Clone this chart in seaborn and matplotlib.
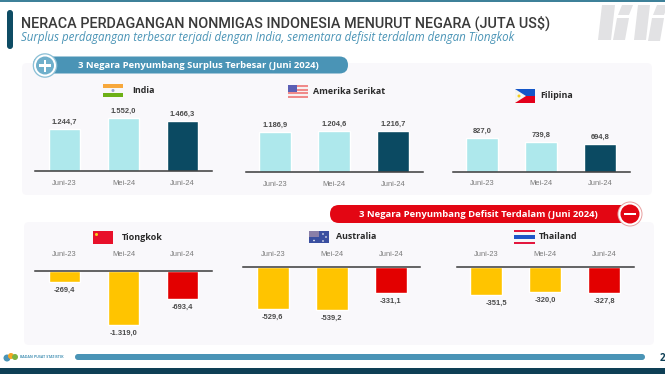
import pandas as pd
import seaborn as sns
from matplotlib import pyplot as plt
from matplotlib.patches import Rectangle, Circle, FancyBboxPatch, Polygon

sns.set_theme(style="white")
plt.rcParams["font.family"] = ["Open Sans", "DejaVu Sans"]

periods = ["Juni-23", "Mei-24", "Juni-24"]

india = [1244.7, 1552.0, 1466.3]
amerika = [1186.9, 1204.6, 1216.7]
filipina = [827.0, 739.8, 694.8]
tiongkok = [-269.4, -1319.0, -693.4]
australia = [-529.6, -539.2, -331.1]
thailand = [-351.5, -320.0, -327.8]

india_labels = ["1.244,7", "1.552,0", "1.466,3"]
amerika_labels = ["1.186,9", "1.204,6", "1.216,7"]
filipina_labels = ["827,0", "739,8", "694,8"]
tiongkok_labels = ["-269,4", "-1.319,0", "-693,4"]
australia_labels = ["-529,6", "-539,2", "-331,1"]
thailand_labels = ["-351,5", "-320,0", "-327,8"]

surplus_colors = ["#AEE8EC", "#AEE8EC", "#0B4A62"]
deficit_colors = ["#FFC400", "#FFC400", "#E30000"]
TEAL = "#4A94B6"
W, H = 665, 374

fig = plt.figure(figsize=(6.65, 3.74), dpi=100, facecolor="white")

# background layer in pixel coords
bg = fig.add_axes([0, 0, 1, 1])
bg.set_xlim(0, W)
bg.set_ylim(H, 0)
bg.axis("off")


def pill(x, y, w, h, color, z=2):
    r = min(w, h) / 2
    bg.add_patch(FancyBboxPatch((x, y), w, h, boxstyle=f"round,pad=0,rounding_size={r}",
                                fc=color, ec="none", zorder=z))


# top and bottom strips
bg.add_patch(Rectangle((0, 0), W, 2, fc="#3E8199", ec="none"))
bg.add_patch(Rectangle((0, 368), W, 6, fc="#0E3F55", ec="none"))

# panels
for x, y, w, h in [(22, 63, 630, 132), (24, 222, 630, 123)]:
    bg.add_patch(FancyBboxPatch((x, y), w, h, boxstyle="round,pad=0,rounding_size=5", fc="#F9F8FB", ec="none", zorder=1))

# title
pill(7, 10, 6, 39, "#0E4C64")
bg.text(21, 23, "NERACA PERDAGANGAN NONMIGAS INDONESIA MENURUT NEGARA (JUTA US$)",
        fontsize=10.35, fontweight="medium", color="#3A3A3A", va="center", family=["Roboto", "DejaVu Sans"])
bg.text(21, 37.5, "Surplus perdagangan terbesar terjadi dengan India, sementara defisit terdalam dengan Tiongkok",
        fontsize=8.3, style="italic", color=TEAL, va="center")

# watermark
for x, y, w, h in [(598, 5, 13, 35), (618, 5, 11, 10), (634, 5, 12, 35), (653, 5, 11, 10), (613, 18, 12, 22), (648, 18, 12, 23)]:
    bg.add_patch(Polygon([(x + 4, y), (x + w + 4, y), (x + w, y + h), (x, y + h)], fc="#E2E2E4", ec="none"))

# section headers
pill(33, 56.5, 315, 17, TEAL)
bg.add_patch(Circle((45, 65.5), 12.3, fc="#8CC0D6", ec="none", zorder=3))
bg.add_patch(Circle((45, 65.5), 11, fc="white", ec="none", zorder=3))
bg.add_patch(Circle((45, 65.5), 9, fc="#6FAFCB", ec="none", zorder=3))
bg.add_patch(Rectangle((39, 64.2), 12, 2.6, fc="white", ec="none", zorder=4))
bg.add_patch(Rectangle((43.7, 59.5), 2.6, 12, fc="white", ec="none", zorder=4))
bg.text(78, 65.5, "3 Negara Penyumbang Surplus Terbesar (Juni 2024)", fontsize=6.8, fontweight="bold",
        color="white", va="center", zorder=4)

pill(330, 205, 310, 18, "#E30613")
bg.add_patch(Circle((630, 214), 12.5, fc="#E8A0A0", ec="none", zorder=3))
bg.add_patch(Circle((630, 214), 11.5, fc="white", ec="none", zorder=3))
bg.add_patch(Circle((630, 214), 9.5, fc="#E30613", ec="none", zorder=3))
bg.add_patch(Rectangle((624, 212.7), 12, 2.6, fc="white", ec="none", zorder=4))
bg.text(478, 214, "3 Negara Penyumbang Defisit Terdalam (Juni 2024)", fontsize=6.8, fontweight="bold",
        color="white", ha="center", va="center", zorder=4)

# footer
pill(75, 354, 570, 6, TEAL)
bg.add_patch(Circle((7, 358), 3.5, fc="#4A94B6", ec="none"))
bg.add_patch(Circle((11, 356), 3, fc="#F5A623", ec="none"))
bg.add_patch(Circle((15, 357), 3, fc="#7CB342", ec="none"))
bg.text(20, 357.5, "BADAN PUSAT STATISTIK", fontsize=2.6, fontweight="bold", color=TEAL, va="center")
bg.text(660, 358.5, "2", fontsize=7, fontweight="bold", color="#0E3F55", va="center")


def bands(x, y, w, h, colors):
    step = h / len(colors)
    for i, c in enumerate(colors):
        bg.add_patch(Rectangle((x, y + i * step), w, step, fc=c, ec="none", zorder=3))


# flags
bands(103, 84, 20, 13, ["#F7A83C", "#F7F7F7", "#6DB016"])
bg.add_patch(Circle((113, 90.5), 1.5, fc="#9DA3C8", ec="none", zorder=4))
bands(288, 85, 20, 13, ["#F08A8A", "#F7F0F0", "#F08A8A", "#F7F0F0", "#F08A8A", "#F7F0F0", "#F08A8A"])
bg.add_patch(Rectangle((288, 85), 9, 7, fc="#5B5FB5", ec="none", zorder=4))
bands(515, 89, 20, 14, ["#1456C8", "#E3001B"])
bg.add_patch(Polygon([(515, 89), (515, 103), (526, 96)], fc="#F5F5F0", ec="none", zorder=4))
bg.add_patch(Circle((519, 96), 1.5, fc="#F5D020", ec="none", zorder=5))
bands(93, 231, 20, 13, ["#E8102A"])
bg.add_patch(Circle((96.5, 234.5), 1.5, fc="#F5D020", ec="none", zorder=4))
bands(309, 231, 20, 12, ["#3A4FA0"])
bg.add_patch(Rectangle((309, 231), 10, 6, fc="#8A7FA8", ec="none", zorder=4))
for cx, cy in [(314, 240.5), (323, 234), (326, 237), (323, 241)]:
    bg.add_patch(Circle((cx, cy), 0.8, fc="white", ec="none", zorder=4))
bands(514, 230, 21, 14, ["#E3173E", "#F7F7F7", "#1E56C8", "#1E56C8", "#F7F7F7", "#E3173E"])

charts = [
    ("India", india, india_labels, 35, 171.5, 0.0345, 132, 90, 6),
    ("Amerika Serikat", amerika, amerika_labels, 245.5, 172.3, 0.0342, 313, 91, 6),
    ("Filipina", filipina, filipina_labels, 452.7, 172, 0.0407, 540, 95, 6),
    ("Tiongkok", tiongkok, tiongkok_labels, 35, 270.7, 0.0412, 122, 237, 9),
    ("Australia", australia, australia_labels, 243.3, 266.7, 0.0804, 336, 236, 6),
    ("Thailand", thailand, thailand_labels, 456.7, 266.7, 0.0797, 539, 236, 6),
]

for name, vals, labs, x0, base, scale, name_x, name_y, pad in charts:
    neg = vals[0] < 0
    ah = 62  # axes height in px
    top = base if neg else base - ah
    ax = fig.add_axes([x0 / W, 1 - (top + ah) / H, 177 / W, ah / H])
    ax.patch.set_alpha(0)
    d = pd.DataFrame({"periode": periods, "nilai": vals})
    sns.barplot(data=d, x="periode", y="nilai", hue="periode", palette=deficit_colors if neg else surplus_colors,
                width=0.535, legend=False, saturation=1, ax=ax)
    span = ah / scale
    ax.set_xlim(-0.5, 2.5)
    ax.set_ylim(-span, 0) if neg else ax.set_ylim(0, span)
    ax.set_xlabel("")
    ax.set_ylabel("")
    ax.set_yticks([])
    sns.despine(ax=ax, left=True, right=True, top=not neg, bottom=neg)
    spine = ax.spines["top" if neg else "bottom"]
    spine.set_color("#3A3A3A")
    spine.set_linewidth(1.1)
    if neg:
        ax.xaxis.tick_top()
    ax.tick_params(axis="x", length=0, pad=pad, labelsize=5.4, labelcolor="#7A7A7A")
    for lab in ax.get_xticklabels():
        lab.set_family(["Liberation Sans", "DejaVu Sans"])
    for i, (v, t) in enumerate(zip(vals, labs)):
        shift = 10 if t == "-351,5" else 0
        ax.annotate(t, (i, v), xytext=(shift, -5 if neg else 3), textcoords="offset pixels",
                    ha="center", va="top" if neg else "bottom", fontsize=5.4, fontweight="bold",
                    color="#4A4A4A", annotation_clip=False, family=["Liberation Sans", "DejaVu Sans"])
    bg.text(name_x, name_y, name, fontsize=6.4, fontweight="bold", color="#2A2A2A", va="center", zorder=4)

fig.savefig("out.png", dpi=100)
